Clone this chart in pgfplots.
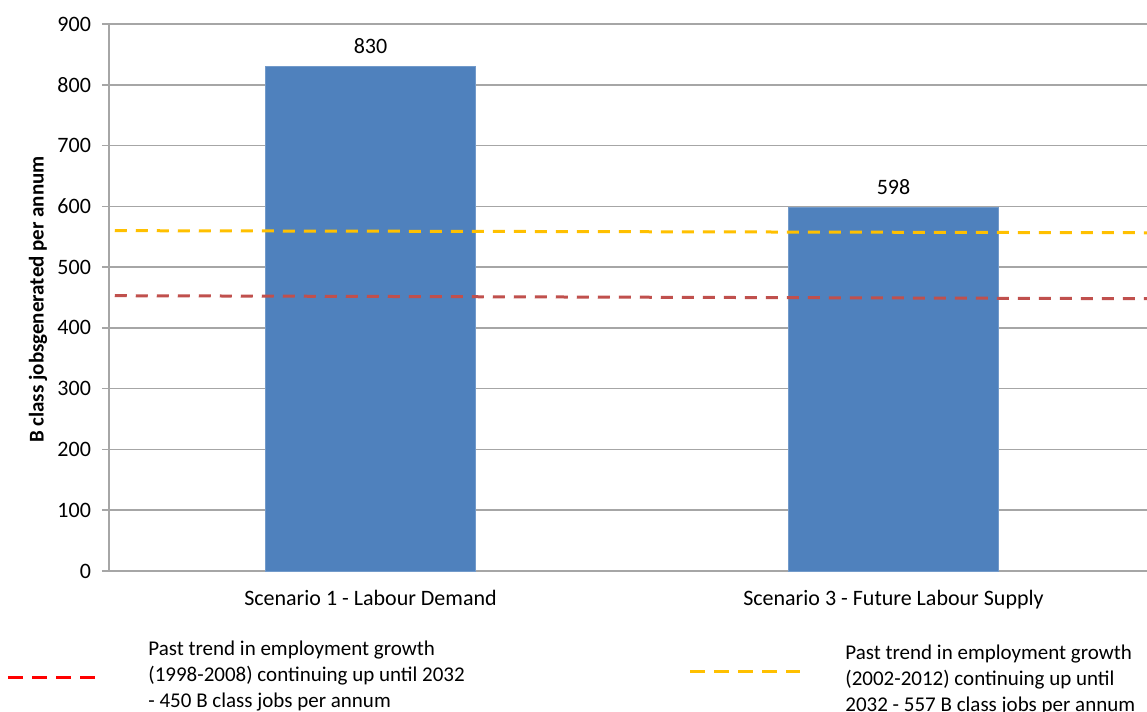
\documentclass[border=0pt]{standalone}
\usepackage{pgfplots}
\pgfplotsset{compat=1.18}
\usepackage{fontspec}
\setmainfont{Carlito}
\definecolor{barblue}{HTML}{4F81BD}
\definecolor{lred}{HTML}{C0504D}
\definecolor{legred}{HTML}{FF0000}
\definecolor{lyel}{HTML}{FFC000}
\definecolor{gridgray}{HTML}{A6A6A6}
\begin{document}
\begin{tikzpicture}
\clip (0,0) rectangle (573.5pt,-356pt);
\begin{axis}[
  at={(54.5pt,-285.5pt)}, anchor=south west,
  scale only axis, width=523pt, height=273.5pt,
  xmin=-0.5, xmax=1.5, ymin=0, ymax=900,
  ytick={0,100,...,900},
  xtick={0,1},
  xticklabels={Scenario 1 - Labour Demand, Scenario 3 - Future Labour Supply},
  extra x ticks={-0.5,0.5,1.5},
  extra x tick labels={},
  extra x tick style={major tick length=3.5pt, tick style={gridgray, line width=0.8pt}, grid=none},
  axis lines*=left,
  axis line style={gridgray, line width=0.8pt},
  tick align=outside,
  major tick length=3.5pt,
  xtick style={draw=none},
  ytick style={gridgray, line width=0.8pt},
  ymajorgrids,
  grid style={gridgray, line width=0.8pt},
  tick label style={font=\fontsize{11}{13}\selectfont, text=black},
  yticklabel style={xshift=-2pt},
  xticklabel style={yshift=-2.5pt},
  /pgf/number format/assume math mode=true,
  ylabel={\textbf{B class jobsgenerated per annum}},
  ylabel style={font=\fontsize{10.5}{12}\selectfont, at={(axis description cs:0,0.5)}, anchor=center, xshift=-1pt, yshift=35.5pt},
  clip=false,
]
\addplot[ybar, bar width=105pt, fill=barblue, draw=barblue!80!white,
  nodes near coords, nodes near coords style={font=\fontsize{11}{13}\selectfont, text=black, yshift=3pt},
  point meta=explicit symbolic]
  coordinates {(0,830) [830] (1,598) [598]};
\addplot[lyel, line width=1.5pt, dash pattern=on 6pt off 4.5pt]
  coordinates {(-0.489,560) (1.5,556.5)};
\addplot[lred, line width=1.5pt, dash pattern=on 6pt off 4.5pt]
  coordinates {(-0.489,453) (1.5,448)};
\end{axis}
% legend
\draw[legred, line width=1.5pt, dash pattern=on 7.5pt off 4.5pt] (4pt,-338.5pt) -- (50pt,-338.5pt);
\draw[lyel, line width=1.5pt, dash pattern=on 7.5pt off 4.5pt] (345pt,-335.5pt) -- (400pt,-335.5pt);
\begin{scope}[every node/.style={anchor=base west, inner sep=0pt, font=\fontsize{10.5}{12}\selectfont}]
\node at (74pt,-327.5pt) {Past trend in employment\ growth};
\node at (74pt,-340.5pt) {(1998-2008)\ continuing up until 2032};
\node at (74pt,-353.5pt) {- 450 B class jobs per annum};
\node at (422.5pt,-329.5pt) {Past trend in employment\ growth};
\node at (422.5pt,-342.5pt) {(2002-2012)\ continuing up until};
\node at (422.5pt,-355.5pt) {2032 - 557 B class jobs per annum};
\end{scope}
\end{tikzpicture}
\end{document}
